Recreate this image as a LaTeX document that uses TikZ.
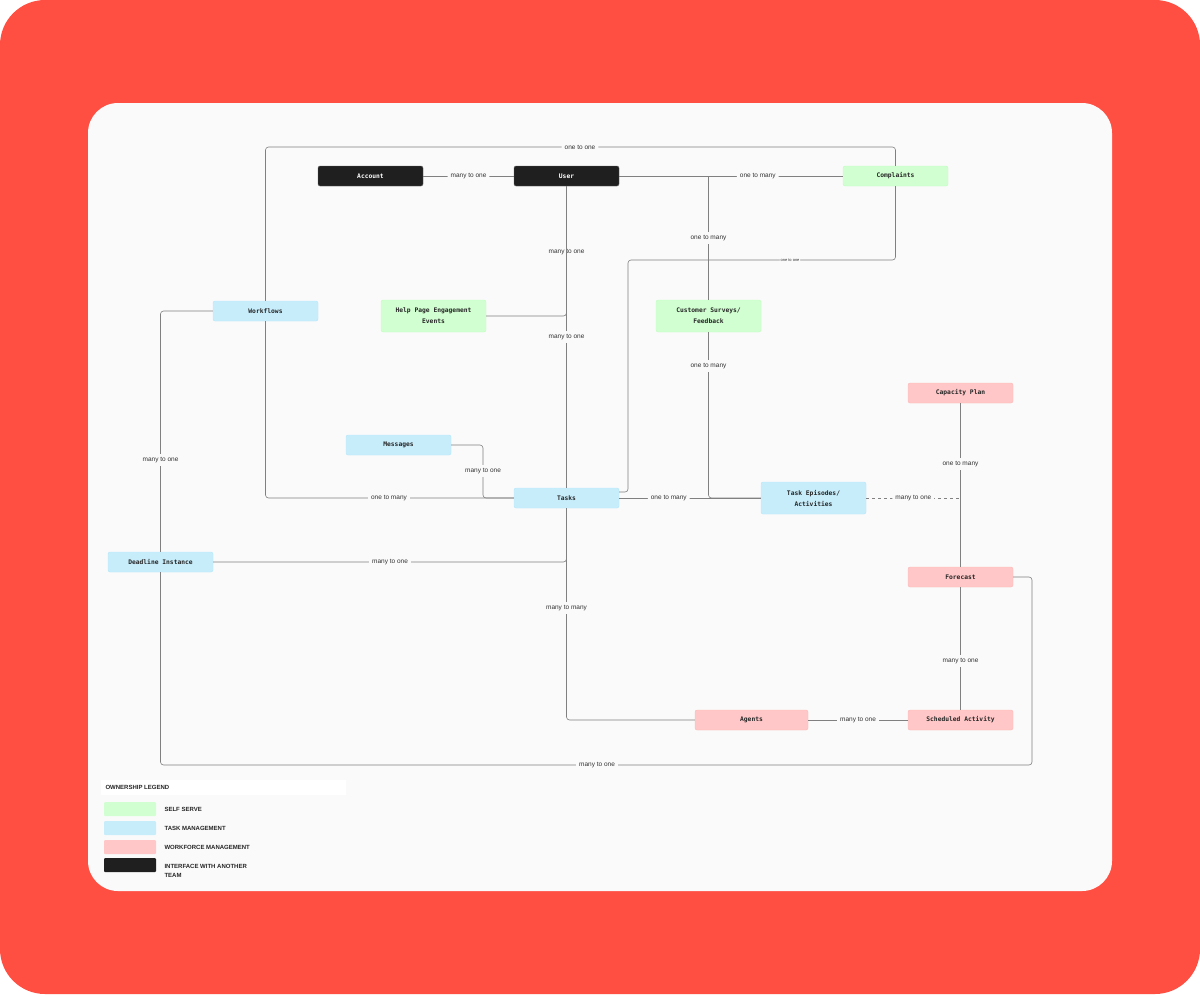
\documentclass[tikz,border=0pt]{standalone}
\usepackage{fontspec}
\setmainfont{Liberation Sans}
\newfontfamily\monof{DejaVu Sans Mono}
\definecolor{bgred}{RGB}{255,79,66}
\begin{document}
\begin{tikzpicture}[x=1pt,y=-1pt,
  box/.style={rounded corners=2pt,minimum width=105pt,minimum height=20pt,inner sep=1pt,align=center,font=\monof\bfseries\fontsize{6.3}{11}\selectfont,text=black!85},
  ss/.style={box,fill=green!18!white,draw=green!25!white},
  tm/.style={box,fill=cyan!22!white,draw=cyan!30!white},
  wf/.style={box,fill=red!22!white,draw=red!28!white},
  ext/.style={box,fill=black!88,draw=black!60,text=white},
  ln/.style={draw=black!50,line width=0.6pt,rounded corners=3pt},
  lb/.style={fill=black!2,font=\fontsize{6.5}{8}\selectfont,inner sep=3pt,text=black!80},
  lg/.style={font=\bfseries\fontsize{6}{9}\selectfont,anchor=west,align=left,text=black!85}]
\useasboundingbox (0,0) rectangle (1200,994);
\fill[rounded corners=45pt,bgred] (0,0) rectangle (1200,994);
\fill[rounded corners=30pt,black!2] (88,103) rectangle (1112,891);
% nodes
\node[ext] (acc) at (370.5,176) {Account};
\node[ext] (usr) at (566.5,176) {User};
\node[ss] (cmp) at (895.5,176) {Complaints};
\node[tm] (wfl) at (265.5,311) {Workflows};
\node[ss,minimum height=32pt] (hlp) at (433.5,316) {Help Page Engagement\\Events};
\node[ss,minimum height=32pt] (srv) at (708.5,316) {Customer Surveys/\\Feedback};
\node[wf] (cap) at (960.5,393) {Capacity Plan};
\node[tm] (msg) at (398.5,445) {Messages};
\node[tm] (tsk) at (566.5,498) {Tasks};
\node[tm,minimum height=32pt] (epi) at (813.5,498) {Task Episodes/\\Activities};
\node[tm] (ddl) at (160.5,562) {Deadline Instance};
\node[wf] (fct) at (960.5,577) {Forecast};
\node[wf,minimum width=113pt] (agt) at (751.5,720) {Agents};
\node[wf] (sch) at (960.5,720) {Scheduled Activity};
% connectors
\draw[ln] (wfl.north) |- (580,147) node[lb]{one to one} -| (cmp.north);
\draw[ln] (acc) -- node[lb]{many to one} (usr);
\draw[ln] (usr) -- node[lb,pos=0.62]{one to many} (cmp);
\draw[ln] (usr.south) -- (566.5,252) node[lb]{many to one} |- (hlp.east);
\draw[ln] (tsk.north) -- (566.5,337) node[lb]{many to one} -- (usr.south);
\draw[ln] (708.5,176) -- (708.5,238) node[lb]{one to many} -- (srv.north);
\draw[ln] (cmp.south) |- (790,260) node[lb,font=\fontsize{4}{5}\selectfont,inner sep=1pt]{one to one} -| (628,492) -- (tsk.east |- 0,492);
\draw[ln] (srv.south) -- (708.5,366) node[lb]{one to many} |- (epi.west);
\draw[ln] (tsk.east) -- node[lb,pos=0.35]{one to many} (epi.west);
\draw[ln] (cap.south) -- (960.5,464) node[lb]{one to many} -- (fct.north);
\draw[ln,dashed] (epi.east) -- node[lb]{many to one} (960.5,498);
\draw[ln] (msg.east) -| (483,471) node[lb]{many to one} |- (tsk.west);
\draw[ln] (wfl.south) |- (389,498) node[lb]{one to many} -- (tsk.west);
\draw[ln] (ddl.east) -- (390,562) node[lb]{many to one} -| (tsk.south);
\draw[ln] (tsk.south) -- (566.5,608) node[lb]{many to many} |- (agt.west);
\draw[ln] (agt) -- node[lb]{many to one} (sch);
\draw[ln] (fct.south) -- (960.5,661) node[lb]{many to one} -- (sch.north);
\draw[ln] (wfl.west) -| (160.5,460) node[lb]{many to one} -- (ddl.north);
\draw[ln] (fct.east) -| (1032,765) -- (597,765) node[lb]{many to one} -| (ddl.south);
% legend
\fill[white] (101,780) rectangle (346,795);
\node[lg] at (102,787.5) {OWNERSHIP LEGEND};
\fill[green!18!white,rounded corners=1pt] (104,802) rectangle (156,816);
\fill[cyan!22!white,rounded corners=1pt] (104,821) rectangle (156,835);
\fill[red!22!white,rounded corners=1pt] (104,840) rectangle (156,854);
\fill[black!88,rounded corners=1pt] (104,858) rectangle (156,872);
\node[lg] at (161,809) {SELF SERVE};
\node[lg] at (161,828) {TASK MANAGEMENT};
\node[lg] at (161,847) {WORKFORCE MANAGEMENT};
\node[lg] at (161,871) {INTERFACE WITH ANOTHER\\TEAM};
\end{tikzpicture}
\end{document}
